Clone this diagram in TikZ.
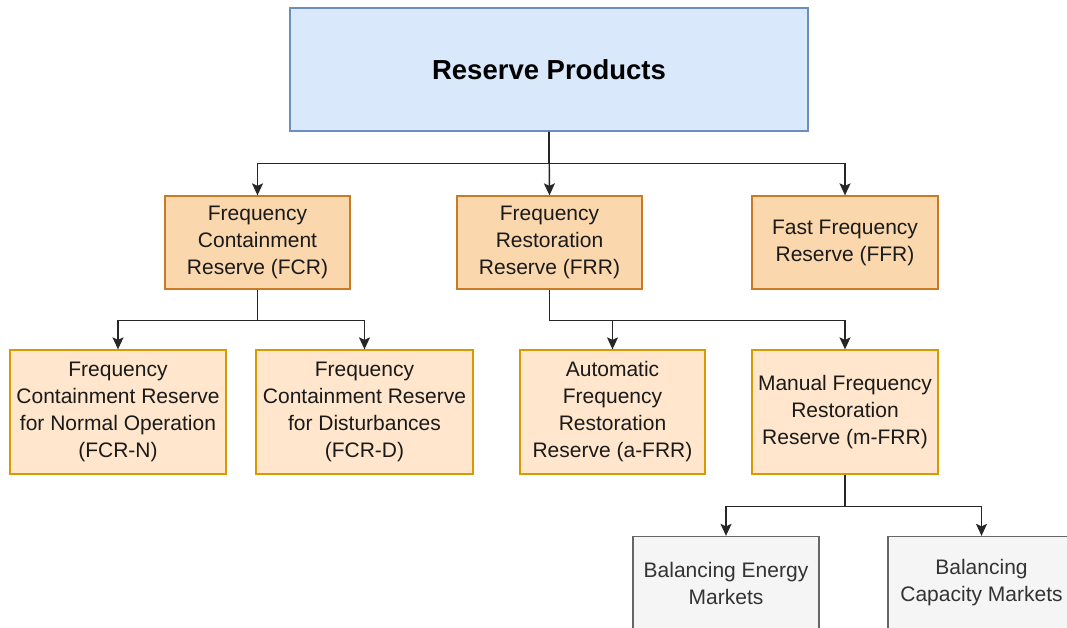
\documentclass[tikz,border=0pt]{standalone}
\usepackage{fontspec}
\setmainfont{Liberation Sans}
\usetikzlibrary{arrows.meta}
\definecolor{topfill}{HTML}{DAE8FC}
\definecolor{topdraw}{HTML}{6C8EBF}
\definecolor{midfill}{HTML}{FAD7AC}
\definecolor{middraw}{HTML}{C97A22}
\definecolor{lowfill}{HTML}{FFE6CC}
\definecolor{lowdraw}{HTML}{D79B00}
\definecolor{mktfill}{HTML}{F5F5F5}
\definecolor{mktdraw}{HTML}{666666}
\definecolor{mkttext}{HTML}{333333}
\definecolor{txt}{HTML}{1A1A1A}
\tikzset{
  boxbase/.style={rectangle, line width=1.3pt, align=center, inner sep=0pt, text=txt,
    font=\fontsize{21}{27}\selectfont},
  topbox/.style={boxbase, fill=topfill, draw=topdraw, minimum width=518pt, minimum height=123pt,
    font=\fontsize{27.5}{33}\selectfont\bfseries, text=black},
  midbox/.style={boxbase, fill=midfill, draw=middraw, minimum height=93pt},
  lowbox/.style={boxbase, fill=lowfill, draw=lowdraw, minimum height=124pt},
  mktbox/.style={boxbase, fill=mktfill, draw=mktdraw, minimum height=93pt, text=mkttext},
  conn/.style={line width=1.4pt, draw=black!85, -{Stealth[length=12pt,width=11pt,inset=2.5pt]}},
}
\begin{document}
\begin{tikzpicture}[x=1pt,y=-1pt]
\useasboundingbox (0,0) rectangle (1067,628);
\clip (0,0) rectangle (1067,628);
\node[topbox] (top) at (549,69.5) {Reserve Products};
\node[midbox, minimum width=185pt] (fcr) at (257.5,242.5) {Frequency\\Containment\\Reserve (FCR)};
\node[midbox, minimum width=185pt] (frr) at (549.5,242.5) {Frequency\\Restoration\\Reserve (FRR)};
\node[midbox, minimum width=186pt] (ffr) at (845,242.5) {Fast Frequency\\Reserve (FFR)};
\node[lowbox, minimum width=216pt] (fcrn) at (118,412) {Frequency\\Containment Reserve\\for Normal Operation\\(FCR-N)};
\node[lowbox, minimum width=217pt] (fcrd) at (364.5,412) {Frequency\\Containment Reserve\\for Disturbances\\(FCR-D)};
\node[lowbox, minimum width=185pt] (afrr) at (612.5,412) {Automatic\\Frequency\\Restoration\\Reserve (a-FRR)};
\node[lowbox, minimum width=186pt] (mfrr) at (845,412) {Manual Frequency\\Restoration\\Reserve (m-FRR)};
\node[mktbox, minimum width=186pt] (bem) at (726,583) {Balancing Energy\\Markets};
\node[mktbox, minimum width=187pt] (bcm) at (981.5,583) {Balancing\\Capacity Markets};
\draw[conn] (top.south) -- ++(0,32) -| (fcr.north);
\draw[conn] (top.south) -- (frr.north);
\draw[conn] (top.south) -- ++(0,32) -| (ffr.north);
\draw[conn] (fcr.south) -- ++(0,31) -| (fcrn.north);
\draw[conn] (fcr.south) -- ++(0,31) -| (fcrd.north);
\draw[conn] (frr.south) -- ++(0,31) -| (afrr.north);
\draw[conn] (frr.south) -- ++(0,31) -| (mfrr.north);
\draw[conn] (mfrr.south) -- ++(0,32) -| (bem.north);
\draw[conn] (mfrr.south) -- ++(0,32) -| (bcm.north);
\end{tikzpicture}
\end{document}
